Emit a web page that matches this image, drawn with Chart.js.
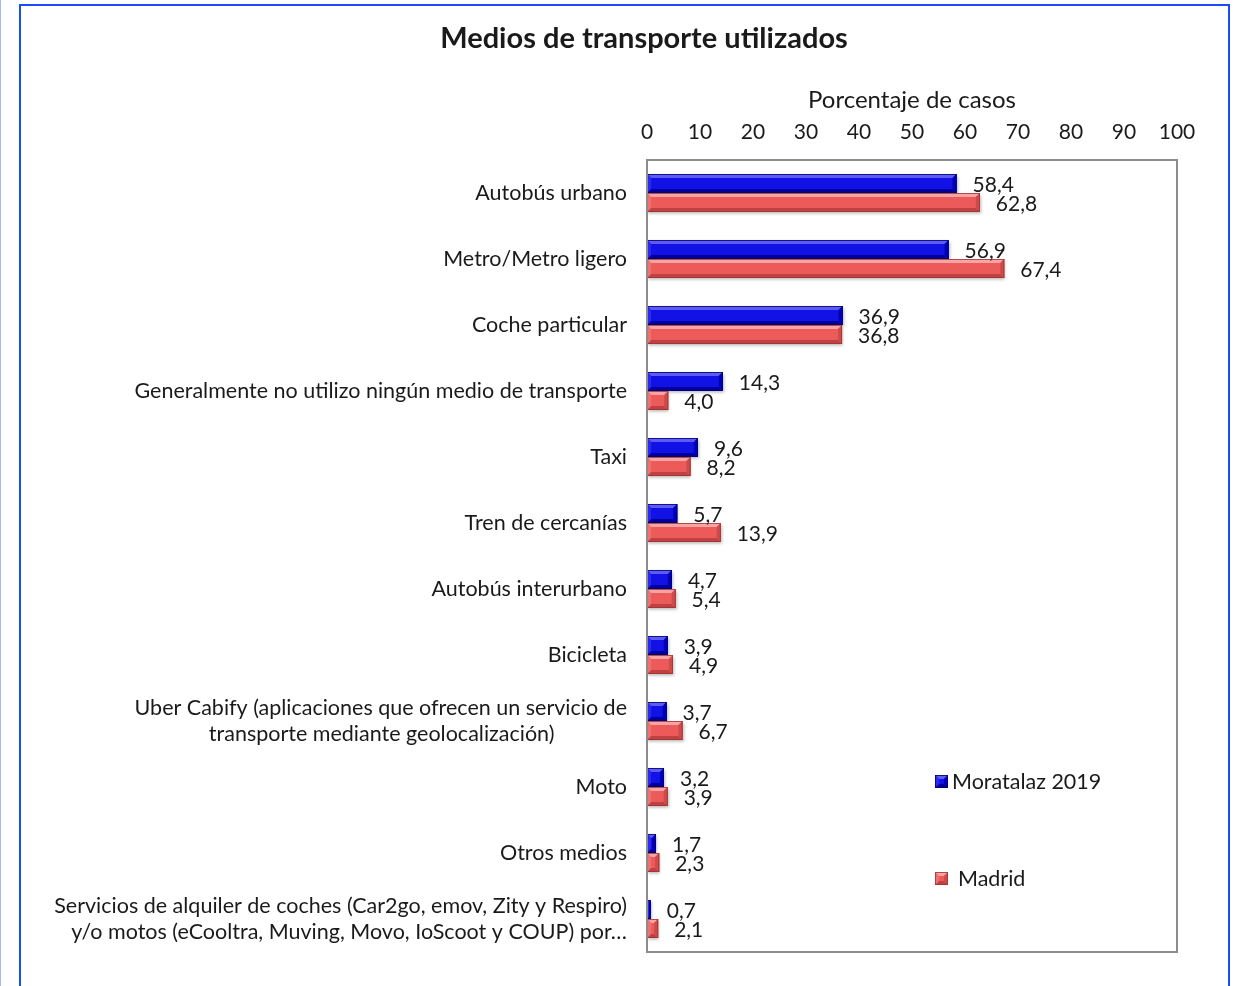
<!DOCTYPE html>
<html>
<head>
<meta charset="utf-8">
<script src="https://cdn.jsdelivr.net/npm/chart.js@4/dist/chart.umd.min.js"></script>
<style>
  html, body { margin: 0; padding: 0; background: #fff; overflow: hidden; }
  #wrap { position: relative; width: 1235px; height: 986px; }
  #frame { position: absolute; left: 19px; top: 4px; width: 1207px; height: 1100px; border: 2px solid #1a4cff; pointer-events: none; }
  #edge { position: absolute; left: 0; top: 0; width: 1px; height: 986px; background: #a5b8ff; }
  canvas { position: absolute; left: 0; top: 0; }
</style>
</head>
<body>
<div id="wrap">
  <canvas id="c" width="1235" height="986"></canvas>
  <div id="edge"></div>
  <div id="frame"></div>
</div>
<script>
const chartTitle = 'Medios de transporte utilizados';
const axisTitle = 'Porcentaje de casos';
const categories = [
  'Autobús urbano',
  'Metro/Metro ligero',
  'Coche particular',
  'Generalmente no utilizo ningún medio de transporte',
  'Taxi',
  'Tren de cercanías',
  'Autobús interurbano',
  'Bicicleta',
  ['Uber Cabify (aplicaciones que ofrecen un servicio de', 'transporte mediante geolocalización)'],
  'Moto',
  'Otros medios',
  ['Servicios de alquiler de coches (Car2go, emov, Zity y Respiro)', 'y/o motos (eCooltra, Muving, Movo, IoScoot y COUP) por…']
];
const seriesNames = ['Moratalaz 2019', 'Madrid'];
const moratalaz = [58.4, 56.9, 36.9, 14.3, 9.6, 5.7, 4.7, 3.9, 3.7, 3.2, 1.7, 0.7];
const madrid = [62.8, 67.4, 36.8, 4.0, 8.2, 13.9, 5.4, 4.9, 6.7, 3.9, 2.3, 2.1];
const xMin = 0, xMax = 100, xStep = 10;

const FONT = 'Lato, "Open Sans", sans-serif';
const TEXT = '#1a1a1a';
const CAT_FONT_SIZE = 21.5;
const palettes = [
  { main: '#1212e6', top: '#5c5cf5', bottom: '#00009a', right: '#0000b8', left: '#2a2aee', border: '#000070' },
  { main: '#ec5a5a', top: '#f8a4a4', bottom: '#bf4242', right: '#cc4c4c', left: '#f07070', border: '#a03434' }
];

// center the lines of a multi-line category label inside its right-aligned block
// (truncated lines ending in an ellipsis fill the block, so they stay flush right)
const measureCtx = document.createElement('canvas').getContext('2d');
function centerLines(label) {
  if (!Array.isArray(label)) return label;
  measureCtx.font = CAT_FONT_SIZE + 'px ' + FONT;
  const widths = label.map(s => measureCtx.measureText(s).width);
  const maxW = Math.max(...widths);
  const sp = measureCtx.measureText('\u2009').width || 3;
  return label.map((s, i) => s.endsWith('…') ? s : s + '\u2009'.repeat(Math.round((maxW - widths[i]) / 2 / sp)));
}

function bevelRect(ctx, l, t, r, b, pal) {
  const w = r - l, h = b - t;
  if (w <= 0 || h <= 0) return;
  const bv = Math.min(4, w / 2, h / 2);
  ctx.fillStyle = pal.main;
  ctx.fillRect(l, t, w, h);
  const poly = (pts, c) => { ctx.beginPath(); ctx.moveTo(pts[0][0], pts[0][1]); for (let i = 1; i < pts.length; i++) ctx.lineTo(pts[i][0], pts[i][1]); ctx.closePath(); ctx.fillStyle = c; ctx.fill(); };
  poly([[l, t], [r, t], [r - bv, t + bv], [l + bv, t + bv]], pal.top);
  poly([[l, b], [r, b], [r - bv, b - bv], [l + bv, b - bv]], pal.bottom);
  poly([[r, t], [r, b], [r - bv, b - bv], [r - bv, t + bv]], pal.right);
  poly([[l, t], [l, b], [l + bv, b - bv], [l + bv, t + bv]], pal.left);
  ctx.strokeStyle = pal.border;
  ctx.lineWidth = 0.8;
  ctx.strokeRect(l + 0.4, t + 0.4, w - 0.8, h - 0.8);
}

const framePlugin = {
  id: 'plotFrame',
  afterLayout(chart) {
    if (chart.titleBlock) { chart.titleBlock.left = 111; }
  },
  afterDraw(chart) {
    const { ctx, chartArea: a } = chart;
    ctx.save();
    ctx.strokeStyle = '#8c8c8c';
    ctx.lineWidth = 2;
    ctx.strokeRect(a.left, a.top, a.right - a.left, a.bottom - a.top);
    ctx.restore();
  }
};

const barStylePlugin = {
  id: 'barStyle',
  afterDatasetsDraw(chart) {
    const ctx = chart.ctx;
    ctx.save();
    chart.data.datasets.forEach((ds, di) => {
      const meta = chart.getDatasetMeta(di);
      const pal = palettes[di];
      meta.data.forEach((el) => {
        const p = el.getProps(['x', 'y', 'base', 'height'], true);
        const t = p.y - p.height / 2, b = p.y + p.height / 2;
        ctx.save();
        ctx.shadowColor = 'rgba(0,0,0,0.28)';
        ctx.shadowBlur = 3;
        ctx.shadowOffsetX = 1;
        ctx.shadowOffsetY = 2;
        ctx.fillStyle = pal.main;
        ctx.fillRect(Math.min(p.base, p.x), t, Math.abs(p.x - p.base), b - t);
        ctx.restore();
        bevelRect(ctx, Math.min(p.base, p.x), t, Math.max(p.base, p.x), b, pal);
      });
    });
    ctx.font = '21px ' + FONT;
    ctx.fillStyle = TEXT;
    ctx.textAlign = 'left';
    ctx.textBaseline = 'middle';
    chart.data.datasets.forEach((ds, di) => {
      const meta = chart.getDatasetMeta(di);
      meta.data.forEach((el, i) => {
        const p = el.getProps(['x', 'y'], true);
        ctx.fillText(ds.data[i].toFixed(1).replace('.', ','), p.x + 16, p.y + 2);
      });
    });
    ctx.restore();
  }
};

const legendPlugin = {
  id: 'insideLegend',
  afterDraw(chart) {
    const { ctx, chartArea: a } = chart;
    const x0 = a.left + 288;
    const rows = [{ y: a.top + 615, tx: x0 + 17 }, { y: a.top + 712, tx: x0 + 23 }];
    ctx.save();
    ctx.font = '21.5px ' + FONT;
    ctx.textBaseline = 'middle';
    ctx.textAlign = 'left';
    chart.data.datasets.forEach((ds, di) => {
      const r = rows[di];
      bevelRect(ctx, x0, r.y, x0 + 13, r.y + 13, palettes[di]);
      ctx.fillStyle = TEXT;
      ctx.fillText(ds.label, r.tx, r.y + 7);
    });
    ctx.restore();
  }
};

new Chart(document.getElementById('c'), {
  type: 'bar',
  data: {
    labels: categories,
    datasets: [
      { label: seriesNames[0], data: moratalaz, backgroundColor: palettes[0].main, borderWidth: 0, categoryPercentage: 0.576, barPercentage: 1 },
      { label: seriesNames[1], data: madrid, backgroundColor: palettes[1].main, borderWidth: 0, categoryPercentage: 0.576, barPercentage: 1 }
    ]
  },
  options: {
    indexAxis: 'y',
    responsive: false,
    animation: false,
    layout: { padding: { left: 0, right: 58, top: 0, bottom: 34 } },
    plugins: {
      legend: { display: false },
      tooltip: { enabled: false },
      title: {
        display: true,
        text: chartTitle,
        color: TEXT,
        font: { family: FONT, size: 29, weight: 'bold' },
        padding: { top: 21.2, bottom: 0 }
      }
    },
    scales: {
      x: {
        position: 'top',
        min: xMin,
        max: xMax,
        grid: { display: false, drawTicks: false },
        border: { display: false },
        ticks: { stepSize: xStep, padding: 15, color: TEXT, font: { family: FONT, size: 21 } },
        title: { display: true, text: axisTitle, color: TEXT, font: { family: FONT, size: 24 }, padding: { top: 29.6, bottom: 0 } },
        afterFit(scale) { scale.height = 104; }
      },
      y: {
        grid: { display: false, drawTicks: false },
        border: { display: false },
        ticks: {
          padding: 20, color: TEXT, autoSkip: false,
          font: { family: FONT, size: CAT_FONT_SIZE, lineHeight: 1.21 },
          callback(value) { return centerLines(this.getLabelForValue(value)); }
        },
        afterFit(scale) { scale.width = 647; }
      }
    }
  },
  plugins: [framePlugin, barStylePlugin, legendPlugin]
});
</script>
</body>
</html>
